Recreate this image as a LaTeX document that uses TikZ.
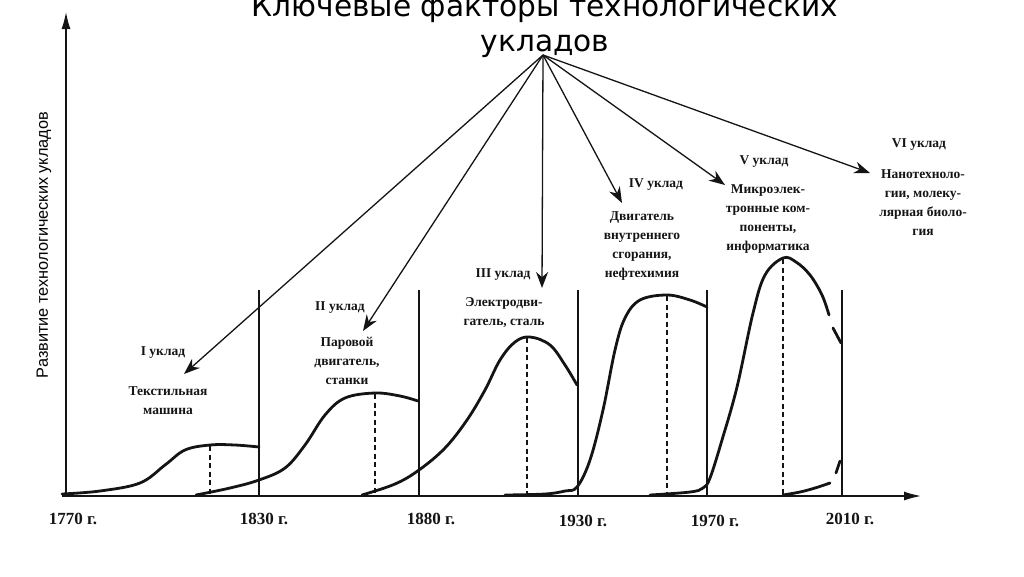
\documentclass[tikz,border=0pt]{standalone}
\usepackage{fontspec}
\setmainfont{Liberation Serif}
\newfontfamily\titlefont{DejaVu Sans}
\newfontfamily\axisfont{Liberation Sans}
\usetikzlibrary{arrows.meta, positioning}
\definecolor{ScanInk}{HTML}{141414}

\begin{document}
\begin{tikzpicture}[x=1pt, y=-1pt,
    curve/.style={line width=2.8pt, ScanInk, line cap=round},
    border/.style={line width=1.4pt, ScanInk},
    median/.style={line width=1.7pt, ScanInk, dash pattern=on 5pt off 3.5pt},
    pointer/.style={line width=1.3pt, ScanInk, -{Stealth[length=16pt, width=12pt]}},
    axis/.style={line width=1.4pt, ScanInk, -{Latex[length=17pt, width=9pt]}},
    lbl/.style={font=\bfseries\fontsize{13.5}{19}\selectfont, align=center, inner sep=0pt, ScanInk},
    year/.style={font=\bfseries\fontsize{17}{20}\selectfont, inner sep=0pt, ScanInk}]
    \useasboundingbox (0,0) rectangle (1024,576);

    % Title and the fan point of the arrows
    \node[font=\titlefont\fontsize{29.6}{35}\selectfont, align=center, inner sep=0pt, anchor=north]
        (heading) at (545,-5.5) {Ключевые факторы технологических\\укладов};
    \coordinate (fan) at (543,55);

    % Axes
    \coordinate (O) at (66,496); \coordinate (ytop) at (66,12);
    \coordinate (xstart) at (62,496); \coordinate (xend) at (921,496);
    \draw[axis] (O) -- (ytop);
    \draw[axis] (xstart) -- (xend);
    \node[font=\axisfont\fontsize{16.3}{18}\selectfont, rotate=90, inner sep=0pt] (ylabel) at (44,245)
        {Развитие технологических укладов};

    % Years
    \node[year] (y1770) at (73,519) {1770 г.};
    \node[year] (y1830) at (264,519) {1830 г.};
    \node[year] (y1880) at (431,519) {1880 г.};
    \node[year] (y1930) at (583,521) {1930 г.};
    \node[year] (y1970) at (715,521) {1970 г.};
    \node[year] (y2010) at (850,519) {2010 г.};

    % Borders between the waves
    \foreach \bx in {259,419,578,707,842}
        \draw[border] (\bx,290) -- (\bx,496);

    % Waves
    \draw[curve] plot[smooth, tension=0.6] coordinates {(62,494) (100,491) (140,483) (165,465) (185,450)
        (210,445) (235,445) (259,447)};
    \draw[curve] plot[smooth, tension=0.6] coordinates {(196,495) (230,488) (259,480) (285,468) (305,445)
        (325,415) (345,398) (375,393) (400,396) (418,401)};
    \draw[curve] plot[smooth, tension=0.6] coordinates {(362,495) (395,484) (419,470) (445,448) (467,420)
        (485,390) (500,360) (515,342) (530,337) (550,345) (565,365) (577,385)};
    \draw[curve] plot[smooth, tension=0.6] coordinates {(505,495) (545,494) (565,491) (577,487) (590,460)
        (603,410) (615,350) (625,318) (640,300) (667,295) (690,300) (707,307)};
    \draw[curve] plot[smooth, tension=0.6] coordinates {(650,495) (690,492) (703,488) (710,478) (722,440)
        (737,387) (753,313) (765,275) (783,258) (796,262) (810,275) (822,295) (829,315)};
    \draw[curve] (833,328) -- (841,343);
    \draw[curve] plot[smooth, tension=0.6] coordinates {(783,495) (800,492) (815,488) (830,483)};
    \draw[curve] (836,473) -- (840,461);

    % Peaks
    \draw[median] (210,446) -- (210,496);
    \draw[median] (375,394) -- (375,496);
    \draw[median] (527,338) -- (527,496);
    \draw[median] (667,296) -- (667,496);
    \draw[median] (783,259) -- (783,496);

    % Labels of the waves
    \node[lbl] (u1) at (163,353) {I уклад};
    \node[lbl] (d1) at (168,401) {Текстильная\\машина};
    \node[lbl] (u2) at (340,308) {II уклад};
    \node[lbl] (d2) at (347,361) {Паровой\\двигатель,\\станки};
    \node[lbl] (u3) at (503,275) {III уклад};
    \node[lbl] (d3) at (504,313) {Электродви-\\гатель, сталь};
    \node[lbl] (u4) at (656,185) {IV уклад};
    \node[lbl] (d4) at (642,246) {Двигатель\\внутреннего\\сгорания,\\нефтехимия};
    \node[lbl] (u5) at (764,162) {V уклад};
    \node[lbl] (d5) at (768,219) {Микроэлек-\\тронные ком-\\поненты,\\информатика};
    \node[lbl] (u6) at (919,145) {VI уклад};
    \node[lbl] (d6) at (923,203) {Нанотехноло-\\гии, молеку-\\лярная биоло-\\гия};

    % Arrows from the title
    \coordinate (tipI) at (184,374);
    \coordinate (tipII) at (363,331);
    \coordinate (tipIII) at (542,288);
    \coordinate (tipIV) at (622,203);
    \coordinate (tipV) at (725,185);
    \coordinate (tipVI) at (870,173);
    \foreach \t in {tipI,tipII,tipIII,tipIV,tipV,tipVI}
        \draw[pointer] (fan) -- (\t);
\end{tikzpicture}
\end{document}
